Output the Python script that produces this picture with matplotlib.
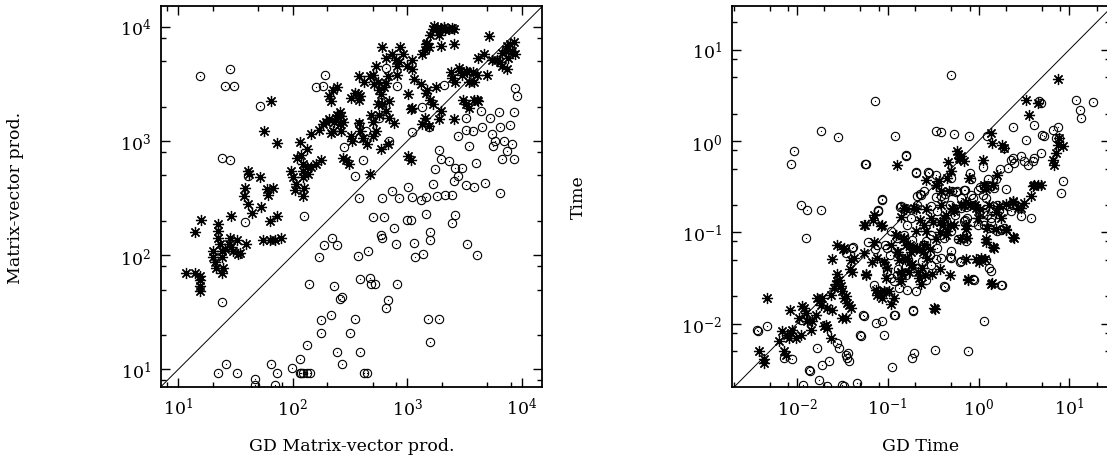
import matplotlib
matplotlib.use("Agg")
import matplotlib.pyplot as plt
from matplotlib.ticker import LogLocator, NullFormatter, LogFormatterMathtext
import numpy as np

plt.rcParams['font.family'] = ['DejaVu Serif']
plt.rcParams['mathtext.fontset'] = 'dejavuserif'

# values are log10 of what is plotted

# left panel, asterisks: (GD mat-vec, mat-vec)
mv_star_x = [1.07, 1.145, 1.19, 1.19, 1.19, 1.19, 1.145, 1.20, 1.30, 1.30, 1.32, 1.33, 1.35, 1.35, 1.35,
             1.36, 1.38, 1.38, 1.39, 1.38, 1.41, 1.44, 1.45, 1.46, 1.48, 1.51, 1.54, 1.52, 1.46, 1.58,
             1.57, 1.61, 1.62, 1.61, 1.64, 1.59, 1.71, 1.72, 1.75, 1.77, 1.78, 1.80, 1.83, 1.86, 1.81,
             1.86, 1.74, 1.80, 1.84, 1.90,
             1.986, 2.00, 2.015, 2.03, 2.04, 2.06, 2.07, 2.09, 2.09, 2.09, 2.10, 2.09, 2.12, 2.12, 2.13,
             2.16, 2.20, 2.25, 2.16, 2.23, 2.26, 2.29, 2.32, 2.33, 2.35, 2.36, 2.38, 2.39, 2.41, 2.42,
             2.44, 2.41, 2.42, 2.44, 2.46, 2.49, 2.51, 2.52, 2.58, 2.59, 2.61, 2.65, 2.67, 2.68, 2.70,
             2.70, 2.73, 2.74, 2.75, 2.78, 2.77, 2.81, 2.84, 2.83, 2.88, 2.32, 2.33, 2.35, 2.39, 2.51,
             2.54, 2.57, 2.58, 2.59, 2.58, 2.62, 2.67, 2.70, 2.71, 2.74, 2.75, 2.77, 2.80, 2.81, 2.83,
             2.84, 2.73, 2.78, 2.81, 2.87, 2.90, 2.91, 2.91, 2.93, 2.94, 2.96, 3.00, 3.04, 3.06, 3.01,
             3.03, 3.04, 3.12, 3.13, 3.15, 3.16, 3.17, 3.19, 3.20, 3.22, 3.23, 3.25, 3.26, 3.28, 3.29,
             3.29, 3.30, 3.32, 3.33, 3.36, 3.39, 3.41, 3.41, 3.16, 3.17, 3.20, 3.22, 3.25, 3.29, 3.28,
             3.19, 3.15, 3.13, 3.04, 3.01, 3.03, 3.38, 3.39, 3.42, 3.45, 3.46, 3.48, 3.51, 3.52, 3.54,
             3.57, 3.58, 3.61, 3.62, 3.67, 3.70, 3.71, 3.74, 3.78, 3.81, 3.83, 3.83, 3.86, 3.87, 3.88,
             3.90, 3.91, 3.93, 3.94, 3.87, 3.41, 3.49, 3.51, 3.54, 3.58, 3.61, 3.62]
mv_star_y = [1.84, 1.84, 1.82, 1.78, 1.73, 1.69, 2.204, 2.31, 2.04, 1.98, 1.94, 1.89, 2.27, 2.21, 2.15,
             2.10, 2.04, 1.98, 1.89, 1.84, 2.05, 2.10, 2.15, 2.07, 2.04, 2.13, 2.02, 2.01, 2.34, 2.59,
             2.52, 2.74, 2.71, 2.45, 2.37, 2.10, 2.68, 2.42, 3.09, 2.58, 2.53, 2.30, 2.59, 2.34, 3.35,
             2.98, 2.13, 2.13, 2.13, 2.15,
             2.74, 2.68, 2.57, 2.62, 2.85, 2.99, 2.88, 2.80, 2.74, 2.68, 2.59, 2.52, 2.93, 2.77, 2.71,
             2.77, 2.80, 2.83, 3.06, 3.10, 3.15, 3.17, 3.19, 3.07, 3.09, 3.17, 3.20, 3.23, 3.25, 3.22,
             3.17, 3.15, 3.09, 2.85, 2.83, 2.80, 3.04, 3.00, 3.16, 3.09, 3.03, 2.97, 2.71, 3.23, 3.17,
             3.04, 3.09, 3.32, 3.23, 3.32, 2.93, 3.26, 3.20, 2.97, 3.16, 3.39, 3.35, 3.45, 3.47, 3.38,
             3.42, 3.41, 3.36, 3.39, 3.57, 3.52, 3.57, 3.58, 3.50, 3.52, 3.45, 3.41, 3.47, 3.51, 3.57,
             3.35, 3.66, 3.82, 3.73, 3.76, 3.71, 3.66, 3.58, 3.69, 3.82, 3.76, 3.66, 3.71, 3.54, 3.41,
             3.28, 3.29, 3.50, 3.76, 3.80, 3.85, 3.86, 3.82, 3.93, 3.98, 4.01, 3.98, 3.99, 3.93, 3.83,
             3.99, 3.98, 4.00, 3.97, 3.98, 3.99, 3.98, 3.85, 3.42, 3.45, 3.36, 3.32, 3.47, 3.26, 3.19,
             3.13, 3.20, 3.15, 3.63, 2.87, 2.83, 3.60, 3.55, 3.52, 3.64, 3.61, 3.58, 3.61, 3.60, 3.52,
             3.60, 3.52, 3.58, 3.73, 3.76, 3.58, 3.92, 3.71, 3.71, 3.69, 3.77, 3.66, 3.80, 3.83, 3.73,
             3.85, 3.79, 3.87, 3.76, 3.63, 3.19, 3.36, 3.32, 3.29, 3.36, 3.36, 3.35]

# left panel, circles
mv_circ_x = [1.19, 1.45, 1.41, 1.49, 1.71, 1.38, 1.45, 1.61, 1.58, 1.38, 2.10, 2.20, 2.26, 2.28, 2.81,
             2.91, 2.77, 2.58, 2.45, 2.54, 2.61, 2.84, 2.75, 2.64, 2.58,
             1.35, 1.42, 1.51, 1.67, 1.67, 1.81, 1.84, 1.86, 1.99, 2.06, 2.06, 2.07, 2.09, 2.12, 2.15,
             2.12, 2.25, 2.25, 2.33, 2.39, 2.43, 2.50, 2.54, 2.59, 2.62, 2.65, 2.41, 2.43, 2.14, 2.36,
             2.59, 2.67, 2.68, 2.72, 2.81, 2.83, 2.91, 3.18, 3.28, 3.20, 2.23, 2.27, 2.34, 2.39, 2.57,
             2.66, 2.70, 2.80, 2.77, 2.78, 2.88, 2.90, 3.00, 3.03, 3.06, 3.07, 3.14, 3.16, 3.20, 3.20,
             3.39, 3.42, 3.52, 3.61, 2.58, 2.78, 2.87, 2.93, 3.01, 3.04, 3.12, 3.16, 3.26, 3.33, 3.39,
             3.41, 3.44, 3.51, 3.58, 3.68, 3.81, 3.24, 3.28, 3.29, 3.36, 3.42, 3.48, 3.60, 3.22, 3.32,
             3.04, 3.13, 3.19, 3.44, 3.51, 3.51, 3.54, 3.57, 3.64, 3.65, 3.72, 3.74, 3.75, 3.77, 3.80,
             3.81, 3.83, 3.84, 3.87, 3.91, 3.93, 3.93, 3.90, 3.94, 3.96]
mv_circ_y = [3.57, 3.63, 3.48, 3.48, 3.31, 2.85, 2.83, 2.69, 2.29, 1.59, 2.34, 3.47, 3.48, 3.58, 3.64,
             3.48, 3.34, 3.15, 2.95, 2.69, 2.83, 3.00, 3.20, 3.09, 3.03,
             0.965, 1.05, 0.965, 0.915, 0.86, 1.05, 0.86, 0.965, 1.01, 1.09, 0.965, 0.965, 0.965, 0.965, 0.965,
             1.21, 1.43, 1.32, 1.48, 1.15, 1.05, 1.32, 1.44, 1.15, 0.965, 0.965, 1.615, 1.63, 1.746, 1.73,
             1.79, 1.80, 1.75, 1.75, 1.54, 1.61, 1.75, 1.44, 1.44, 1.24, 1.98, 2.09, 2.15, 2.09, 1.995,
             2.04, 2.33, 2.33, 2.18, 2.15, 2.24, 2.10, 2.31, 2.31, 2.11, 1.98, 2.01, 2.36, 2.20, 2.13,
             2.28, 2.35, 2.10, 2.00, 2.50, 2.50, 2.56, 2.50, 2.60, 2.51, 2.48, 2.51, 2.52, 2.53, 2.53,
             2.65, 2.69, 2.61, 2.60, 2.63, 2.54, 2.75, 2.92, 2.84, 2.82, 2.76, 2.76, 2.81, 2.62, 3.49,
             3.08, 3.30, 3.12, 3.04, 3.20, 3.10, 2.96, 3.09, 3.26, 3.12, 3.20, 3.06, 2.96, 3.00, 3.25,
             3.12, 2.84, 3.00, 2.91, 2.97, 2.84, 3.25, 3.14, 3.46, 3.39]

# right panel, asterisks: (GD time, time)
t_star_x = [-2.42, -2.365, -2.365, -2.33, -2.20, -2.16, -2.14, -2.125, -2.11, -2.09, -2.08, -2.07, -2.05,
            -2.015, -1.98, -1.96, -1.94, -1.92, -1.905, -1.89, -1.85, -1.83, -1.795, -1.776, -1.758,
            -1.74, -1.72, -1.70, -1.684, -1.666, -1.666, -1.63, -1.61, -1.592, -1.574, -1.563, -1.556,
            -1.537, -1.52, -1.50, -1.482, -1.464, -1.464, -1.445, -1.427, -1.41, -1.39, -1.41, -1.372,
            -1.556, -1.61, -1.482, -1.26, -1.243, -1.17, -1.151, -1.133, -1.115, -1.06, -1.04, -1.023,
            -1.004, -0.986, -0.967, -0.93, -0.912, -0.894, -0.875, -0.857, -0.857, -0.839, -0.82, -0.82,
            -0.802, -0.784, -0.765, -0.747, -0.728, -0.71, -0.692, -0.673, -0.655, -0.636, -0.618, -0.60,
            -0.581, -0.563, -0.526, -0.508, -0.49, -0.471, -0.434, -0.416, -0.379, -0.361, -0.342,
            -0.324, -0.306, -0.287, -0.269, -0.232, -0.214, -0.195, -0.158, -0.158, -0.14, -0.122,
            -0.114, -0.103, -0.092, -0.03, -0.011, 0.007, 0.025, 0.044, 0.062, 0.08, 0.099, 0.117,
            0.136, 0.154, 0.172, 0.154, 0.209, 0.228, 0.246, 0.264, 0.283, 0.301, 0.375, 0.393, 0.43,
            0.467, 0.503, 0.522, 0.558, 0.577, 0.595, 0.614, 0.65, 0.687, 0.65, 0.816, 0.834, 0.853,
            0.871, 0.89, 0.926, 0.878, -1.151, -1.06, -1.26, -0.901, -1.63, -1.50, -1.115, -1.04,
            -0.60, -0.416, -0.342, -0.269,
            -1.254, -1.070, -1.162, -0.850, -0.795, -0.684, -0.574, -0.648, -0.501, -0.427, -0.317,
            -0.905, -0.831, -0.758, -0.684, -0.611, -0.887, -0.813, -0.740, -0.666, -0.593, -0.537,
            -0.464, -0.427, -0.390, -0.354, -0.280, -0.188, -0.133, -0.041, 0.014, 0.088, 0.161,
            0.198, 0.308, 0.382, 0.198, 0.088, 0.161, 0.308, 0.382, -0.023, 0.069, -0.133, 0.143,
            -0.115, -0.482, -0.960, -1.089, -1.236, -1.420, -1.493, -0.427, -0.317, -0.206, -0.133,
            -0.225, -0.206, -0.335, -0.574, -0.464]
t_star_y = [-2.30, -2.39, -2.43, -1.72, -2.19, -2.08, -2.30, -2.34, -2.12, -2.16, -1.85, -2.10, -2.07,
            -2.16, -1.94, -2.12, -1.81, -1.83, -1.88, -1.97, -2.07, -1.97, -1.90, -1.72, -1.755,
            -1.79, -1.72, -2.03, -2.01, -2.05, -1.83, -1.68, -1.85, -1.61, -1.57, -1.536, -1.46,
            -1.52, -1.59, -1.646, -1.72, -1.70, -1.94, -1.77, -1.79, -1.83, -1.43, -1.30, -1.28,
            -1.135, -1.29, -1.17, -1.23, -1.46, -1.32, -1.10, -1.63, -1.68, -1.72, -1.646, -1.50,
            -1.39, -1.646, -1.135, -1.72, -1.025, -1.21, -1.30, -1.43, -1.536, -1.46, -1.06, -0.73,
            -1.135, -1.28, -1.43, -1.21, -1.35, -0.73, -0.99, -1.17, -1.50, -1.57, -1.39, -1.135,
            -0.99, -1.28, -0.84, -1.46, -1.83, -0.478, -0.44, -0.55, -0.84, -1.025, -0.405,
            -0.55, -0.332, -0.73, -0.916, -0.113, -0.186, -0.168, -0.222, -0.697, -0.916, -1.06,
            -1.52, -0.405, -0.697, -0.73, -0.84, -1.32, -1.28, -0.204, -0.478, -1.10, -0.952, -0.697,
            0.088, -0.02, -1.17, -1.555, -0.368, -0.715, -0.84, -0.04, -0.076, -0.97, -0.66, -1.06, -0.73,
            -0.73, -0.678, 0.453, 0.289, -0.606, -0.496, -0.478, -0.478, -0.478, 0.416, -0.204, -0.259, -0.131,
            -0.04, 0.033, -0.058, 0.683, -0.806, -0.916, -0.916, -0.266, -2.16, -1.94, -1.28, -1.32,
            -0.916, -0.697, -0.99, -0.77,
            -0.923, -0.930, -0.868, -0.832, -0.740, -0.740, -0.740, -0.868, -0.886, -0.886, -0.923,
            -1.032, -1.069, -1.142, -1.178, -1.215, -1.215, -1.288, -1.361, -1.434, -1.470, -1.178,
            -1.069, -0.996, -0.923, -0.813, -0.740, -0.704, -0.667, -0.704, -0.740, -0.521, -0.485,
            -0.777, -0.686, -0.667, -0.959, -1.069, -1.160, -0.959, -1.051, -1.288, -1.288, -1.288, -1.562,
            -1.507, -1.835, -1.781, -1.653, -1.470, -1.397, -1.178, -1.397, -1.470, -1.069, -0.959,
            -0.138, -0.193, -0.229, -0.430, -0.485]

# right panel, circles
t_circ_x = [-2.438, -2.43, -2.335, -2.144, -2.052, -1.96, -1.93, -1.868, -1.857, -1.783, -1.758, -1.72,
            -1.666, -1.647, -1.556, -1.537, -1.50, -1.482, -1.464, -1.445, -1.438, -1.427, -1.342,
            -1.306, -1.298, -1.26, -1.133, -1.06, -1.041, -0.956, -0.93, -0.728, -0.71, -0.717,
            -0.482, -0.114, 0.055, -2.07, -2.03, -1.74, -1.548, -1.144, -0.92, -0.802, -1.243, -1.953,
            -1.886, -1.74, -1.905, -1.06, -1.104, -0.857, -0.692, -0.636, -0.545, -0.467, -0.409,
            -0.269, -0.103, -0.306, -0.092, 0.044, 0.092, 0.375, 0.522, 0.614, 0.687, 0.705, 0.724,
            0.816, 0.871, 0.853, 0.89, 0.926, 0.908, 1.073, 1.121, 1.128, 1.264, 0.669, 0.687,
            -1.39, -1.464, -1.115, -1.041, -0.894, -0.93, -1.096, -1.06, -1.151, -0.875, -0.784,
            -0.692, -0.581, -0.60, -0.581, -0.526, -0.416, -0.379, -0.306, -0.195, -0.158, -0.14,
            -0.048, 0.117, 0.136, 0.264, -0.158, -0.122, -0.195, -0.085, -0.011, 0.062, 0.099, 0.136,
            0.172, 0.209, 0.228, 0.136, 0.062, -0.011, 0.117, 0.209, 0.32, 0.356, 0.411, 0.467, 0.577,
            0.283, 0.246, 0.32, 0.375, 0.393, 0.467, 0.503, 0.54, 0.595, 0.614, 0.283, -0.471, -0.416,
            -0.379, -0.306, -0.287, -0.526, -0.453, -0.379, -0.306, -0.526, -0.60, -0.673, -0.747,
            -0.784, -0.82, -0.894, -0.967, -1.004, -1.004, -0.967, -0.857, -0.802, -0.673, -0.618,
            -0.453, -0.379, -0.306, -0.728, -0.673, 0.044, 0.08, 0.007, 0.044, 0.099, 0.154, -0.048,
            -0.066, -0.158, -0.232, -0.195,
            -1.254, -1.107, -1.059, -0.868, -0.795, -0.684, -0.556, -0.648, -0.464, -0.372, -0.243,
            -0.151, -0.133, -0.078, 0.014, 0.106, 0.198, 0.308, 0.382, 0.271, 0.143, 0.051, -0.059,
            -0.151, -0.225, -0.133, -1.034, -0.979, -0.887, -0.795, -0.611, -0.537, -0.464, -0.317,
            -0.206, -0.059, 0.088, 0.253, -0.372, -0.721, -0.923, -1.273, -0.262, -0.317, -1.383,
            -1.217, -1.144, 0.235, 0.363]
t_circ_y = [-2.065, -2.076, -2.03, -2.375, -2.39, -1.956, -2.667, -2.503, -2.514, -2.266, -2.613, -2.449,
            -2.686, -2.405, -2.21, -2.266, -2.667, -2.686, -2.339, -2.375, -2.32, -2.412, -2.65,
            -2.12, -2.138, -1.92, -1.992, -1.974, -2.12, -2.478, -1.901, -2.375, -2.32, -1.857,
            -2.29, -2.30, -1.967, -0.25, -0.113, 0.106, 0.04, 0.442, 0.059, -0.168, -0.25, -0.697,
            -0.759, -0.752, -1.06, -0.642, -0.77, -0.715, -0.35, -0.587, -0.35, 0.106, 0.099,
            0.077, 0.051, 0.719, -0.35, -0.288, 0.051, 0.15, 0.015, 0.179, -0.131, 0.07, 0.051,
            0.124, 0.15, 0.033, 0.033, -0.434, -0.569, 0.453, 0.343, 0.252, 0.427, 0.435, 0.416,
            -1.171, -1.226, -1.135, -1.336, -1.463, -1.536, -1.646, -1.682, -1.573, -1.609, -1.627,
            -1.646, -1.518, -1.135, -1.098, -1.354, -1.28, -1.591, -1.28, -1.317, -1.062, -1.098,
            -1.518, -1.39, -1.427, -1.573, -0.879, -0.843, -0.624, -0.587, -0.533, -0.496, -0.478, -0.496,
            -0.514, -0.697, -0.752, -0.843, -0.916, -0.916, -0.952, -0.989, -0.715, -0.77, -0.697, -0.825, -0.843,
            -0.952, -0.97, -0.295, -0.186, -0.24, -0.168, -0.222, -0.259, -0.222, -0.186, -0.076, -0.368, -0.606,
            -0.624, -0.405, -0.551, -0.715, -0.77, -0.879, -0.989, -1.025, -0.551, -0.606, -0.843,
            -0.916, -1.025, -1.062, -0.989, -1.171, -1.427, -1.50, -1.28, -1.372, -1.39, -1.317,
            -1.171, -1.062, -1.208, -1.08, -0.697, -0.587, -0.624, -0.77, -0.879, -0.806, -0.77, -0.697,
            -0.624, -0.533, -0.551, -0.733,
            -0.248, -0.759, -0.638, -0.722, -0.156, -0.339, -0.339, -0.576, -0.613, -0.576, -0.558,
            -0.540, -0.722, -0.412, -0.503, -0.412, -0.412, -0.521, -0.704, -0.777, -0.886, -0.777, -0.886,
            -0.868, -1.069, -1.032, -1.142, -1.251, -1.397, -1.470, -1.142, -1.251, -1.288, -1.270,
            -1.324, -1.507, -1.306, -1.580, -1.598, -1.854, -1.908, -1.908, -0.813, -0.704, -1.160,
            -1.105, -1.178, -0.302, -0.211]

star = (8, 2, 0)


def panel(ax, sx, sy, cx, cy, lim_x, lim_y, xlabel, ylabel, ylab_x):
    sx, sy = 10 ** np.array(sx), 10 ** np.array(sy)
    cx, cy = 10 ** np.array(cx), 10 ** np.array(cy)
    ax.plot(cx, cy, 'o', ms=6, mfc='none', mec='black', mew=0.8, zorder=2)
    ax.plot(cx, cy, 'o', ms=0.9, mfc='black', mec='black', mew=0, zorder=2)
    ax.plot(sx, sy, ls='none', marker=star, ms=8, mec='black', mew=0.9, zorder=3)
    lo = min(lim_x[0], lim_y[0])
    hi = max(lim_x[1], lim_y[1])
    ax.plot([lo, hi], [lo, hi], color='black', lw=0.7, zorder=1)
    ax.set_xscale('log')
    ax.set_yscale('log')
    ax.set_xlim(*lim_x)
    ax.set_ylim(*lim_y)
    for axis in (ax.xaxis, ax.yaxis):
        axis.set_major_locator(LogLocator(base=10, numticks=20))
        axis.set_minor_locator(LogLocator(base=10, subs=(2.0, 5.0, 8.0), numticks=20))
        axis.set_major_formatter(LogFormatterMathtext())
        axis.set_minor_formatter(NullFormatter())
    ax.tick_params(which='both', direction='in', top=True, right=True, labelsize=12.5)
    ax.tick_params(which='major', length=6.5, width=1.0, pad=7)
    ax.tick_params(which='minor', length=3.5, width=1.0)
    for s in ax.spines.values():
        s.set_linewidth(1.3)
    ax.set_xlabel(xlabel, fontsize=12.5)
    ax.set_ylabel(ylabel, fontsize=12.5)
    ax.xaxis.set_label_coords(0.5, -0.13)
    ax.yaxis.set_label_coords(ylab_x, 0.5)


fig = plt.figure(figsize=(11.07, 4.6), dpi=100)
ax1 = fig.add_axes([0.1454, 0.1565, 0.3442, 0.8283])
ax2 = fig.add_axes([0.6612, 0.1565, 0.3415, 0.8283])

panel(ax1, mv_star_x, mv_star_y, mv_circ_x, mv_circ_y, (7.05, 15000), (7.0, 15200),
      'GD Matrix-vector prod.', 'Matrix-vector prod.', -0.36)
panel(ax2, t_star_x, t_star_y, t_circ_x, t_circ_y, (0.00192, 28.1), (0.00203, 30.1),
      'GD Time', 'Time', -0.385)

fig.savefig('out.png', dpi=100)
